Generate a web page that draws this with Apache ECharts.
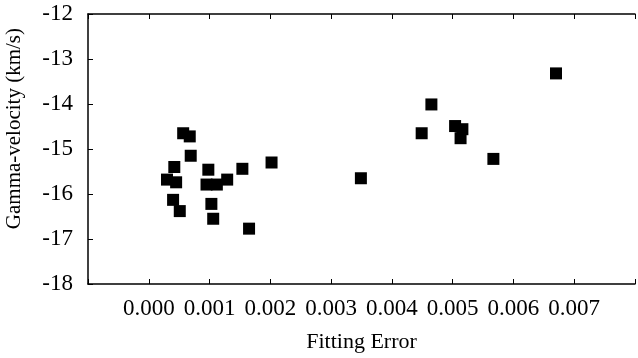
<!DOCTYPE html>
<html>
<head>
<meta charset="utf-8">
<script src="https://cdn.jsdelivr.net/npm/echarts@6/dist/echarts.min.js"></script>
<style>html,body{margin:0;padding:0;background:#fff;}#c{width:638px;height:358px;}</style>
</head>
<body>
<div id="c"></div>
<script>
const fittingError = [0.000566,0.000674,0.00069,0.00042,0.00030,0.00045,0.00098,0.00095,0.00112,0.00129,0.00154,0.00202,0.00040,0.00051,0.00103,0.00106,0.00165,0.00349,0.00670,0.00465,0.00449,0.00504,0.00516,0.00513,0.00567];
const gammaVelocity = [-14.65,-14.72,-15.15,-15.40,-15.68,-15.74,-15.46,-15.79,-15.79,-15.68,-15.44,-15.30,-16.13,-16.38,-16.22,-16.55,-16.77,-15.65,-13.32,-14.01,-14.65,-14.49,-14.56,-14.76,-15.22];
const xTickLabels = ['0.000','0.001','0.002','0.003','0.004','0.005','0.006','0.007'];
const yTickLabels = ['-18','-17','-16','-15','-14','-13','-12'];
const xName = 'Fitting Error';
const yName = 'Gamma-velocity (km/s)';

const font = '"Liberation Serif","Times New Roman",serif';
const chart = echarts.init(document.getElementById('c'));
const pts = fittingError.map((x,i)=>[x,gammaVelocity[i]]);
function xLabel(v){
  const k = Math.round(v*1000);
  return (k>=0 && k<xTickLabels.length) ? xTickLabels[k] : '';
}
function yLabel(v){
  const k = Math.round(v)+18;
  return (k>=0 && k<yTickLabels.length) ? yTickLabels[k] : '';
}
const lineStyle = {color:'#000', width:1.5};
chart.setOption({
  animation:false,
  grid:{left:88, top:14, right:-7, bottom:72},
  xAxis:[{
    type:'value', min:-0.001, max:0.008, interval:0.001, position:'bottom',
    axisLine:{show:true, onZero:false, lineStyle:lineStyle},
    axisTick:{show:true, inside:true, length:5, lineStyle:{color:'#000', width:1}},
    axisLabel:{formatter:xLabel, color:'#000', fontFamily:font, fontSize:23, margin:13},
    splitLine:{show:false},
    name:xName, nameLocation:'middle', nameGap:47,
    nameTextStyle:{color:'#000', fontFamily:font, fontSize:22}
  },{
    type:'value', min:-0.001, max:0.008, interval:0.001, position:'top',
    axisLine:{show:true, onZero:false, lineStyle:lineStyle},
    axisTick:{show:true, inside:true, length:5, lineStyle:{color:'#000', width:1}},
    axisLabel:{show:false}, splitLine:{show:false}
  }],
  yAxis:[{
    type:'value', min:-18, max:-12, interval:1,
    axisLine:{show:true, onZero:false, lineStyle:lineStyle},
    axisTick:{show:true, inside:true, length:5, lineStyle:{color:'#000', width:1}},
    axisLabel:{formatter:yLabel, color:'#000', fontFamily:font, fontSize:23, margin:15},
    splitLine:{show:false}
  }],
  graphic:[{
    type:'text', left:4, top:28, rotation:Math.PI/2,
    style:{text:yName, fill:'#000', font:'21px '+font}
  }],
  series:[{
    type:'scatter', xAxisIndex:0, yAxisIndex:0, data:pts,
    symbol:'rect', symbolSize:12,
    itemStyle:{color:'#000', opacity:1}
  }]
});
</script>
</body>
</html>
